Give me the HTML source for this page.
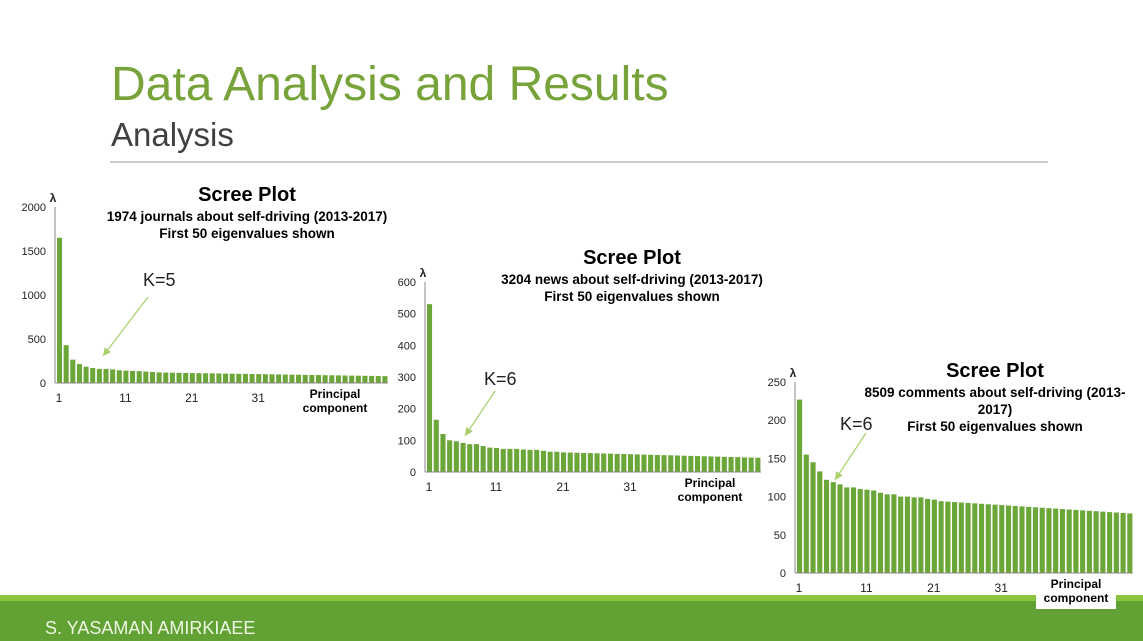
<!DOCTYPE html>
<html><head><meta charset="utf-8"><style>
body{margin:0;width:1143px;height:641px;overflow:hidden;background:#fff;font-family:"Liberation Sans",sans-serif}
svg{position:absolute;left:0;top:0}
</style></head><body>
<svg id="s" width="1143" height="641" xmlns="http://www.w3.org/2000/svg">
<text x="111" y="100" font-size="48" fill="#77a33a" font-family="Liberation Sans">Data Analysis and Results</text>
<text x="111" y="146" font-size="33" fill="#404040" font-family="Liberation Sans">Analysis</text>
<line x1="110" y1="162" x2="1048" y2="162" stroke="#999" stroke-width="1"/>
<rect x="0" y="595" width="1143" height="6" fill="#8cc63f"/>
<rect x="0" y="601" width="1143" height="40" fill="#62a234"/>
<text x="45" y="634" font-size="18" fill="#eef6e4" font-family="Liberation Sans">S. YASAMAN AMIRKIAEE</text>
</svg>
<script>
const s=document.getElementById('s');const NS='http://www.w3.org/2000/svg';
function el(t,a,txt){const e=document.createElementNS(NS,t);for(const k in a)e.setAttribute(k,a[k]);if(txt!==undefined)e.textContent=txt;s.appendChild(e);return e;}
function gen(first,tail,end){const v=first.slice();const n=50-first.length;const st=tail;for(let i=0;i<n;i++){v.push(st+(end-st)*i/(n-1));}return v;}
function chart(o){
 const {x0,x1,yb,ytop,max,step,vals}=o;const pitch=(x1-x0)/50;
 vals.forEach((v,i)=>{const h=v/max*(yb-ytop);el('rect',{x:x0+i*pitch+1,y:yb-h,width:pitch*0.76,height:h,fill:'#6aa738'});});
 el('line',{x1:x0-1,y1:yb,x2:x0-1,y2:ytop,stroke:'#888','stroke-width':1});
 el('line',{x1:x0-1,y1:yb,x2:x1,y2:yb,stroke:'#888','stroke-width':1});
 for(let t=0;t<=max;t+=step){const y=yb-t/max*(yb-ytop);el('text',{x:x0-10,y:y+4,'font-size':11,'text-anchor':'end',fill:'#222'},String(t));}
 [1,11,21,31].forEach(k=>{el('text',{x:x0+(k-1)*pitch+3,y:yb+19,'font-size':12,'text-anchor':'middle',fill:'#222'},String(k));});
 el('rect',{x:o.plx-40,y:yb+1,width:80,height:o.plh,fill:'#fff'});
 el('text',{x:o.plx,y:yb+15,'font-size':12,'font-weight':'bold','text-anchor':'middle'},'Principal');
 el('text',{x:o.plx,y:yb+29,'font-size':12,'font-weight':'bold','text-anchor':'middle'},'component');
 el('text',{x:x0-3,y:ytop-5,'font-size':12,'font-weight':'bold','text-anchor':'middle',fill:'#222'},'λ');
 el('text',{x:o.tx,y:o.ty,'font-size':20,'font-weight':'bold','text-anchor':'middle'},'Scree Plot');
 o.sub.forEach((l,i)=>el('text',{x:o.tx,y:o.ty+20+i*17,'font-size':13.5,'font-weight':'bold','text-anchor':'middle'},l));
 el('text',{x:o.kx,y:o.ky,'font-size':18,fill:'#222'},o.k);
 el('line',{x1:o.a[0],y1:o.a[1],x2:o.a[2],y2:o.a[3],stroke:'#a8d06a','stroke-width':1.2});
 const dx=o.a[2]-o.a[0],dy=o.a[3]-o.a[1],L=Math.hypot(dx,dy),ux=dx/L,uy=dy/L;
 el('polygon',{points:`${o.a[2]},${o.a[3]} ${o.a[2]-ux*8-uy*4},${o.a[3]-uy*8+ux*4} ${o.a[2]-ux*8+uy*4},${o.a[3]-uy*8-ux*4}`,fill:'#a8d06a'});
}
chart({x0:56,x1:388,yb:383,ytop:207,max:2000,step:500,
 vals:gen([1650,430,265,215,185,170,160,160,155,145,140,138,135,130,125,120],118,78),
 plx:335,plh:30,tx:247,ty:201,sub:['1974 journals about self-driving (2013-2017)','First 50 eigenvalues shown'],
 kx:143,ky:286,k:'K=5',a:[148,297,103,356]});
chart({x0:426,x1:761,yb:472,ytop:282,max:600,step:100,
 vals:gen([530,165,120,100,97,92,88,88,82,77,76,73,73,73,71,70,70,67,64,64],62,45),
 plx:710,plh:30,tx:632,ty:264,sub:['3204 news about self-driving (2013-2017)','First 50 eigenvalues shown'],
 kx:484,ky:385,k:'K=6',a:[495,391,465,436]});
chart({x0:796,x1:1133,yb:573,ytop:382,max:250,step:50,
 vals:gen([227,155,145,133,122,119,116,112,112,110,109,108,105,103,103,100,100,99,99,97,96],94,78),
 plx:1076,plh:35,tx:995,ty:377,sub:['8509 comments about self-driving (2013-','2017)','First 50 eigenvalues shown'],
 kx:840,ky:430,k:'K=6',a:[866,433,835,480]});
</script>
</body></html>
